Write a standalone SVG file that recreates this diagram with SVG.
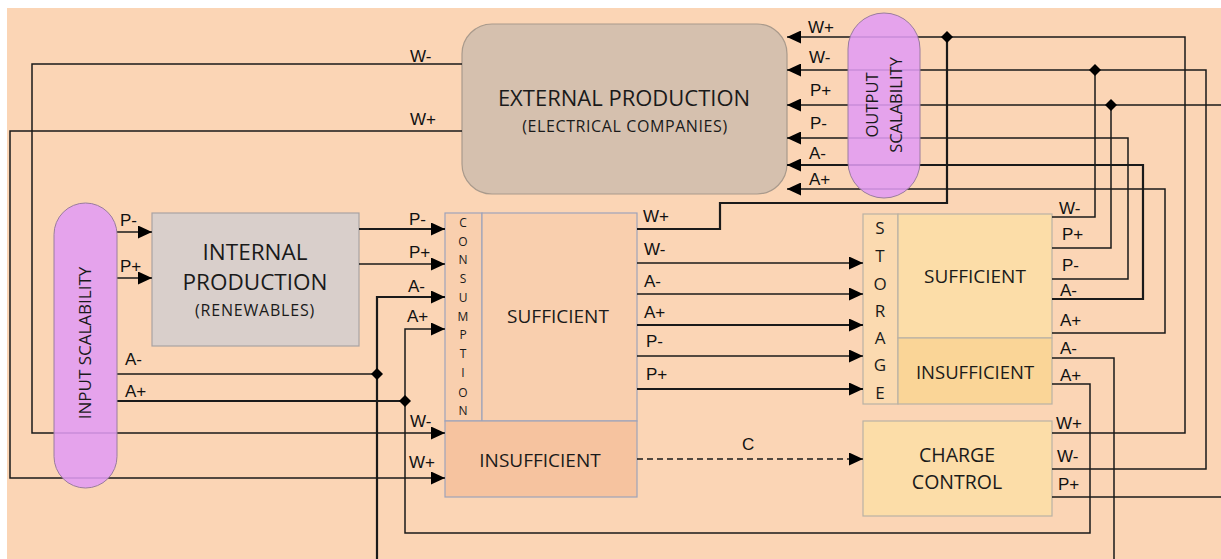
<svg xmlns="http://www.w3.org/2000/svg" width="1221" height="559" viewBox="0 0 1221 559">
<defs>
<marker id="ah" markerUnits="userSpaceOnUse" markerWidth="15" markerHeight="13" refX="14" refY="6.5" orient="auto">
<path d="M0,0 L14,6.5 L0,13 Z" fill="#000"/>
</marker>
<style>
.ln{fill:none;stroke:#1a1a1a;stroke-width:1.5}
.tk{stroke-width:2.2}
.lb{font-family:"Liberation Sans",Arial,sans-serif;font-size:17px;fill:#111}
.bt{font-family:"Open Sans","Liberation Sans",sans-serif;fill:#1a1a1a;text-anchor:middle}
.dot{fill:#000}
</style>
</defs>
<rect x="0" y="0" width="1221" height="559" fill="#fff"/>
<rect x="7" y="8" width="1214" height="551" fill="#FBD5B5"/>

<g id="nodes-back">
<g id="external">
<rect x="462" y="24" width="325" height="170" rx="30" fill="#D5C0AE" stroke="#A99A8C" stroke-width="1.2"/>
<text class="bt" x="624" y="106" font-size="22">EXTERNAL PRODUCTION</text>
<text class="bt" x="625" y="132" font-size="16" letter-spacing="0.6">(ELECTRICAL COMPANIES)</text>
</g>
<g id="internal">
<rect x="152" y="213" width="207" height="133" fill="#D9CFCB" stroke="#A9A3A3" stroke-width="1.2"/>
<text class="bt" x="255" y="260" font-size="22.5">INTERNAL</text>
<text class="bt" x="255" y="290" font-size="22.5">PRODUCTION</text>
<text class="bt" x="255" y="316" font-size="16" letter-spacing="0.8">(RENEWABLES)</text>
</g>
<g id="consumption">
<rect x="445" y="213" width="37" height="208" fill="#F9CFAE" stroke="#9EA3BA" stroke-width="1.2"/>
<rect x="482" y="213" width="155" height="208" fill="#F9CFAE" stroke="#9EA3BA" stroke-width="1.2"/>
<g class="bt" font-size="12" fill="#444">
<text x="463" y="227">C</text><text x="463" y="246">O</text><text x="463" y="264">N</text><text x="463" y="283">S</text><text x="463" y="302">U</text><text x="463" y="321">M</text><text x="463" y="339">P</text><text x="463" y="358">T</text><text x="463" y="377">I</text><text x="463" y="397">O</text><text x="463" y="415">N</text>
</g>
<text class="bt" x="558" y="323" font-size="19">SUFFICIENT</text>
</g>
<g id="cons-insufficient">
<rect x="445" y="421" width="192" height="76" fill="#F6C39F" stroke="#9EA3BA" stroke-width="1.2"/>
<text class="bt" x="540" y="467" font-size="19">INSUFFICIENT</text>
</g>
<g id="storage">
<rect x="863" y="214" width="35" height="190" fill="#FBDAB0" stroke="#B9B2A5" stroke-width="1.2"/>
<rect x="898" y="214" width="154" height="124" fill="#FCDDA8" stroke="#B9B2A5" stroke-width="1.2"/>
<rect x="898" y="338" width="154" height="66" fill="#FAD597" stroke="#B9B2A5" stroke-width="1.2"/>
<g class="bt" font-size="17">
<text x="880" y="234">S</text><text x="880" y="262">T</text><text x="880" y="290">O</text><text x="880" y="317">R</text><text x="880" y="344">A</text><text x="880" y="371">G</text><text x="880" y="399">E</text>
</g>
<text class="bt" x="975" y="283" font-size="19">SUFFICIENT</text>
<text class="bt" x="975" y="379" font-size="18.5">INSUFFICIENT</text>
</g>
<g id="charge-control">
<rect x="863" y="421" width="189" height="95" fill="#FCDDA8" stroke="#B9B2A5" stroke-width="1.2"/>
<text class="bt" x="957" y="462" font-size="19.5">CHARGE</text>
<text class="bt" x="957" y="489" font-size="19.5">CONTROL</text>
</g>
</g>

<g id="connectors">
<path class="ln" d="M1052,433 H1185 V37 H787" marker-end="url(#ah)"/>
<path class="ln tk" d="M637,229 H720 V203 H947 V37"/>
<path class="ln" d="M1052,469 H1206 V70 H787" marker-end="url(#ah)"/>
<path class="ln" d="M1052,217 H1095 V70"/>
<path class="ln" d="M1221,105 H787" marker-end="url(#ah)"/>
<path class="ln" d="M1052,248 H1111 V105"/>
<path class="ln" d="M1052,279 H1128 V138 H787" marker-end="url(#ah)"/>
<path class="ln tk" d="M1052,299 H1143 V165 H787" marker-end="url(#ah)"/>
<path class="ln" d="M1052,333 H1165 V189 H787" marker-end="url(#ah)"/>
<path class="ln" d="M462,64 H32 V433 H445" marker-end="url(#ah)"/>
<path class="ln" d="M462,131 H10 V478 H445" marker-end="url(#ah)"/>
<path class="ln" d="M117,232 H152" marker-end="url(#ah)"/>
<path class="ln" d="M117,278 H152" marker-end="url(#ah)"/>
<path class="ln tk" d="M359,229 H445" marker-end="url(#ah)"/>
<path class="ln" d="M359,264 H445" marker-end="url(#ah)"/>
<path class="ln tk" d="M377,559 V297 H445" marker-end="url(#ah)"/>
<path class="ln" d="M117,374 H377"/>
<path class="ln" d="M1052,384 H1090 V533 H405 V329 H445" marker-end="url(#ah)"/>
<path class="ln tk" d="M117,401 H405"/>
<path class="ln" d="M1052,358 H1114 V559"/>
<path class="ln" d="M1052,497 H1221"/>
<path class="ln" d="M637,263 H863" marker-end="url(#ah)"/>
<path class="ln" d="M637,294 H863" marker-end="url(#ah)"/>
<path class="ln tk" d="M637,325 H863" marker-end="url(#ah)"/>
<path class="ln" d="M637,356 H863" marker-end="url(#ah)"/>
<path class="ln tk" d="M637,389 H863" marker-end="url(#ah)"/>
<path class="ln" d="M637,459 H863" stroke-dasharray="6,4" marker-end="url(#ah)"/>
<path class="dot" d="M947,31 L953,37 L947,43 L941,37 Z"/>
<path class="dot" d="M1095,64 L1101,70 L1095,76 L1089,70 Z"/>
<path class="dot" d="M1111,99 L1117,105 L1111,111 L1105,105 Z"/>
<path class="dot" d="M377,368 L383,374 L377,380 L371,374 Z"/>
<path class="dot" d="M405,395 L411,401 L405,407 L399,401 Z"/>
</g>

<g id="labels">
<text class="lb" x="808" y="33">W+</text>
<text class="lb" x="809" y="63">W-</text>
<text class="lb" x="810" y="96">P+</text>
<text class="lb" x="810" y="129">P-</text>
<text class="lb" x="809" y="159">A-</text>
<text class="lb" x="809" y="185">A+</text>
<text class="lb" x="410" y="62">W-</text>
<text class="lb" x="410" y="125">W+</text>
<text class="lb" x="120" y="226">P-</text>
<text class="lb" x="120" y="272">P+</text>
<text class="lb" x="125" y="365">A-</text>
<text class="lb" x="125" y="397">A+</text>
<text class="lb" x="409" y="225">P-</text>
<text class="lb" x="409" y="258">P+</text>
<text class="lb" x="408" y="292">A-</text>
<text class="lb" x="407" y="322">A+</text>
<text class="lb" x="410" y="427">W-</text>
<text class="lb" x="409" y="468">W+</text>
<text class="lb" x="643" y="222">W+</text>
<text class="lb" x="644" y="255">W-</text>
<text class="lb" x="644" y="287">A-</text>
<text class="lb" x="644" y="318">A+</text>
<text class="lb" x="646" y="347">P-</text>
<text class="lb" x="646" y="380">P+</text>
<text class="lb" x="742" y="450">C</text>
<text class="lb" x="1059" y="214">W-</text>
<text class="lb" x="1062" y="240">P+</text>
<text class="lb" x="1062" y="271">P-</text>
<text class="lb" x="1060" y="296">A-</text>
<text class="lb" x="1060" y="326">A+</text>
<text class="lb" x="1060" y="354">A-</text>
<text class="lb" x="1060" y="381">A+</text>
<text class="lb" x="1056" y="429">W+</text>
<text class="lb" x="1057" y="462">W-</text>
<text class="lb" x="1058" y="490">P+</text>
</g>

<g id="output-scalability">
<rect x="848" y="13" width="72" height="185" rx="36" fill="#E19CF4" fill-opacity="0.88" stroke="#9A7C9E" stroke-width="1"/>
<text class="bt" font-size="16.5" transform="translate(878,105) rotate(-90)">OUTPUT</text>
<text class="bt" font-size="16.5" transform="translate(902,105) rotate(-90)">SCALABILITY</text>
</g>
<g id="input-scalability">
<rect x="54" y="203" width="63" height="285" rx="31.5" fill="#E19CF4" fill-opacity="0.88" stroke="#9A7C9E" stroke-width="1"/>
<text class="bt" font-size="17" transform="translate(91,343) rotate(-90)">INPUT SCALABILITY</text>
</g>
</svg>
